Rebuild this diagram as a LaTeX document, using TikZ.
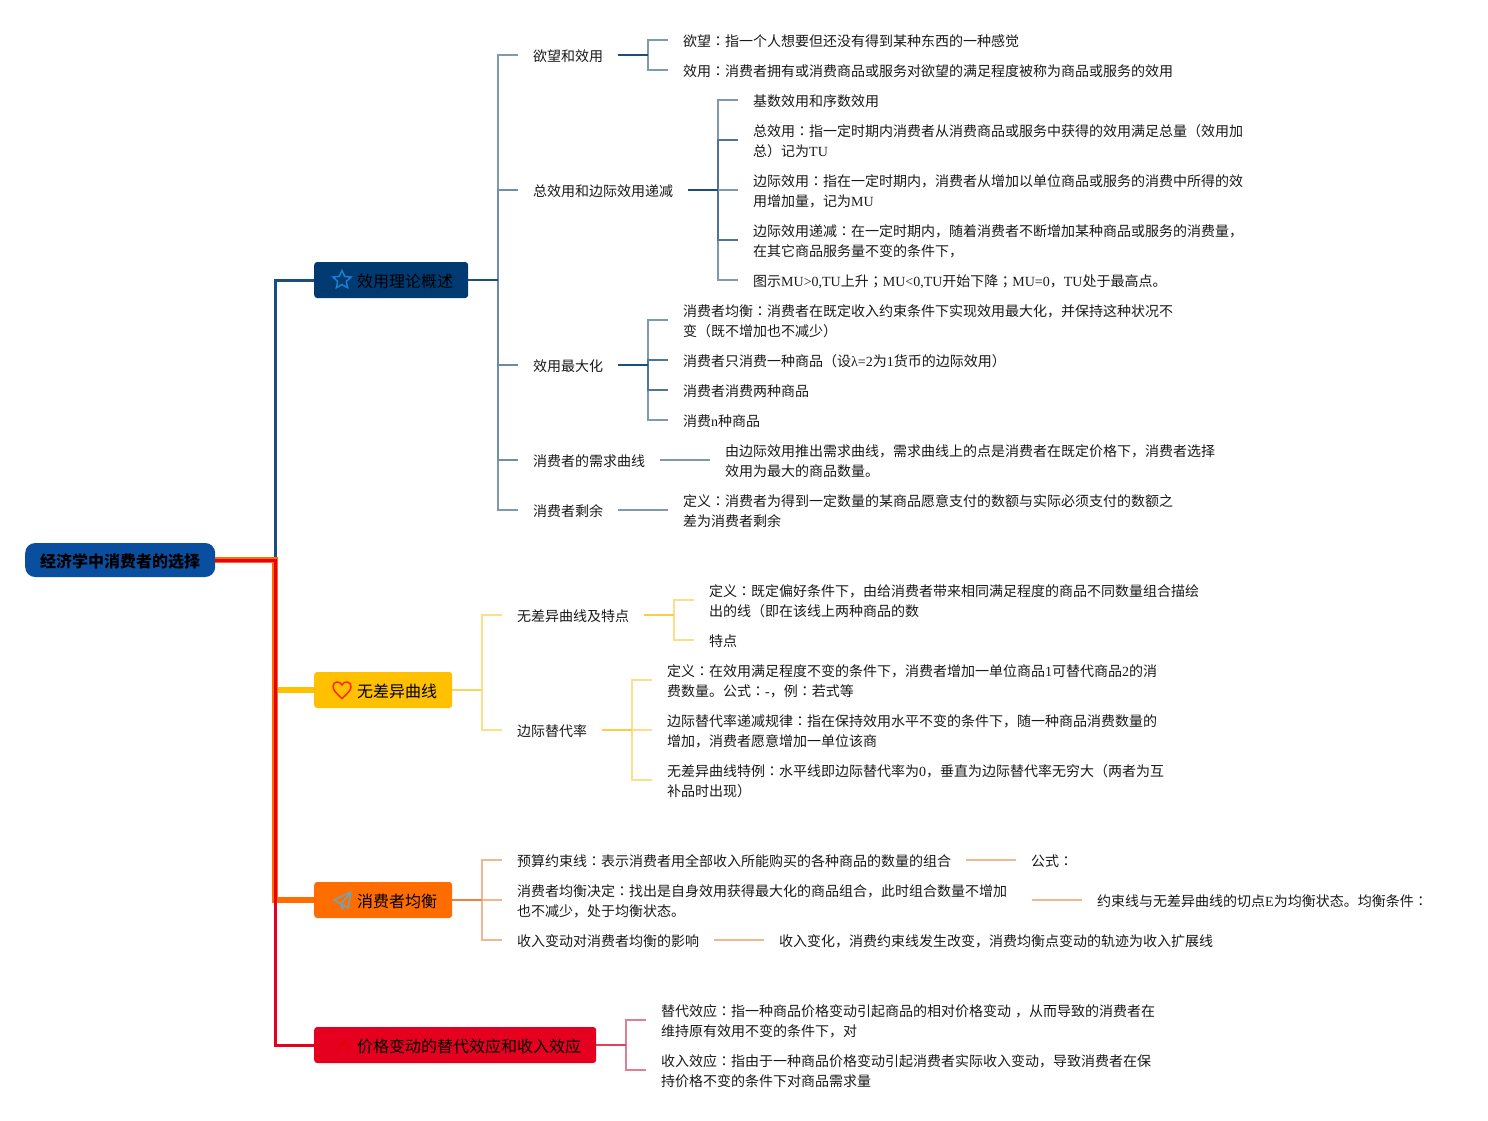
\documentclass[tikz,border=0pt]{standalone}
\usepackage{fontspec}
\usetikzlibrary{shapes.geometric}
\setmainfont{Noto Sans CJK SC}
\newfontfamily\latf{Liberation Serif}
\newfontfamily\tcf{Noto Sans CJK TC}
\newcommand\ltn[1]{{\latf #1}}
\newcommand\cn{{\tcf ：}}
\newcommand\sm{{\tcf ；}}
\definecolor{bS}{HTML}{1C4E7C}\definecolor{bM}{HTML}{4F7496}\definecolor{bL}{HTML}{7F99AF}\definecolor{bT}{HTML}{003A70}\definecolor{bR}{HTML}{0A4F9F}
\definecolor{yS}{HTML}{FDCB45}\definecolor{yM}{HTML}{FDD45F}\definecolor{yL}{HTML}{FDDF8A}\definecolor{yT}{HTML}{FFC000}
\definecolor{oS}{HTML}{E8823E}\definecolor{oL}{HTML}{F2B78E}\definecolor{oT}{HTML}{FF6C00}
\definecolor{rS}{HTML}{E0405C}\definecolor{rL}{HTML}{DC8092}\definecolor{rT}{HTML}{E60020}
\definecolor{starC}{HTML}{1A7FD0}
\tikzset{
  x=1pt,y=-1pt,
  rootbox/.style={fill=#1,rounded corners=10pt,minimum height=34pt,minimum width=190pt,inner sep=0pt,anchor=west,font=\fontsize{16}{20}\selectfont\bfseries,execute at begin node={\rule{0pt}{16.2pt}}},
  mainbox/.style={fill=#1,rounded corners=3pt,minimum height=36pt,inner xsep=15pt,inner ysep=0pt,anchor=west,font=\fontsize{16}{20}\selectfont,execute at begin node={\rule{0pt}{16.2pt}}},
  leaf/.style={anchor=west,inner xsep=15pt,inner ysep=0pt,align=left,text=black!90,font=\fontsize{14}{20}\selectfont,execute at begin node={\rule{0pt}{14.4pt}}},
  twol/.style={leaf,text width=530pt},
  link/.style={line width=2pt,draw=#1},
  trunk/.style={line width=#1},
  icon/.style={line width=1.5pt,line join=round}
}
\begin{document}
\begin{tikzpicture}
\useasboundingbox (0,0) rectangle (1488,1120);
% root and main topics
\node[rootbox=bR] (root) at (25,560) {经济学中消费者的选择};
\node[mainbox=bT] (m1) at (314,280) {\hspace{28pt}效用理论概述};
\node[mainbox=yT] (m2) at (314,690) {\hspace{28pt}无差异曲线};
\node[mainbox=oT] (m3) at (314,900) {\hspace{28pt}消费者均衡};
\node[mainbox=rT] (m4) at (314,1045) {\hspace{28pt}价格变动的替代效应和收入效应};
\coordinate (trk) at (275,560);
% trunk
\draw[trunk=3pt,draw=bS] (root.east) -- (trk) |- (m1.west);
\draw[trunk=6pt,draw=yT] (root.east) -- (trk) |- (m2.west);
\draw[trunk=6pt,draw=oT] (root.east) -- (trk) |- (m3.west);
\draw[trunk=3pt,draw=rT] (root.east) -- (trk) |- (m4.west);
% icons
\node[star,star points=5,star point ratio=2.1,draw=starC,line width=1.5pt,minimum size=19pt,inner sep=0pt] (staricon) at (342,280) {};
\draw[icon,draw=red!70!orange] (342,698.5) .. controls (336,693) and (333,690) .. (333,686.5) .. controls (333,681) and (340,680.5) .. (342,685) .. controls (344,680.5) and (351,681) .. (351,686.5) .. controls (351,690) and (348,693) .. (342,698.5) -- cycle;
\draw[icon,draw=cyan!45!gray] (351,892) -- (334,900) -- (341,904) -- (348,908) -- cycle (351,892) -- (341,904) -- (342,909) -- (345,905);
\draw[line width=1.2pt,draw=red!90!black] (336,1053) -- (345,1040) -- (350,1053) (345,1046) -- (341,1042);
% branch 1
\node[leaf] (a1) at (518,55) {欲望和效用};
\node[leaf] (a2) at (518,190) {总效用和边际效用递减};
\node[leaf] (a3) at (518,365) {效用最大化};
\node[leaf] (a4) at (518,460) {消费者的需求曲线};
\node[leaf] (a5) at (518,510) {消费者剩余};
\node[leaf] (a11) at (668,40) {欲望\cn 指一个人想要但还没有得到某种东西的一种感觉};
\node[leaf] (a12) at (668,70) {效用\cn 消费者拥有或消费商品或服务对欲望的满足程度被称为商品或服务的效用};
\node[leaf] (a21) at (738,100) {基数效用和序数效用};
\node[twol] (a22) at (738,140) {总效用\cn 指一定时期内消费者从消费商品或服务中获得的效用满足总量（效用加\\总）记为\ltn{TU}};
\node[twol] (a23) at (738,190) {边际效用\cn 指在一定时期内，消费者从增加以单位商品或服务的消费中所得的效\\用增加量，记为\ltn{MU}};
\node[twol] (a24) at (738,240) {边际效用递减\cn 在一定时期内，随着消费者不断增加某种商品或服务的消费量，\\在其它商品服务量不变的条件下，};
\node[leaf] (a25) at (738,280) {图示\ltn{MU>0,TU}上升\sm\ltn{MU<0,TU}开始下降\sm\ltn{MU=0}，\ltn{TU}处于最高点。};
\node[twol] (a31) at (668,320) {消费者均衡\cn 消费者在既定收入约束条件下实现效用最大化，并保持这种状况不\\变（既不增加也不减少）};
\node[leaf] (a32) at (668,360) {消费者只消费一种商品（设\ltn{λ=2}为\ltn{1}货币的边际效用）};
\node[leaf] (a33) at (668,390) {消费者消费两种商品};
\node[leaf] (a34) at (668,420) {消费\ltn{n}种商品};
\node[twol] (a41) at (710,460) {由边际效用推出需求曲线，需求曲线上的点是消费者在既定价格下，消费者选择\\效用为最大的商品数量。};
\node[twol] (a51) at (668,510) {定义\cn 消费者为得到一定数量的某商品愿意支付的数额与实际必须支付的数额之\\差为消费者剩余};
% branch 2
\node[leaf] (b1) at (502,615) {无差异曲线及特点};
\node[leaf] (b2) at (502,730) {边际替代率};
\node[twol] (b11) at (694,600) {定义\cn 既定偏好条件下，由给消费者带来相同满足程度的商品不同数量组合描绘\\出的线（即在该线上两种商品的数};
\node[leaf] (b12) at (694,640) {特点};
\node[twol] (b21) at (652,680) {定义\cn 在效用满足程度不变的条件下，消费者增加一单位商品\ltn{1}可替代商品\ltn{2}的消\\费数量。公式\cn\ltn{-}，例\cn 若式等};
\node[twol] (b22) at (652,730) {边际替代率递减规律\cn 指在保持效用水平不变的条件下，随一种商品消费数量的\\增加，消费者愿意增加一单位该商};
\node[twol] (b23) at (652,780) {无差异曲线特例\cn 水平线即边际替代率为\ltn{0}，垂直为边际替代率无穷大（两者为互\\补品时出现）};
% branch 3
\node[leaf] (c1) at (502,860) {预算约束线\cn 表示消费者用全部收入所能购买的各种商品的数量的组合};
\node[twol,text width=500pt] (c2) at (502,900) {消费者均衡决定\cn 找出是自身效用获得最大化的商品组合，此时组合数量不增加\\也不减少，处于均衡状态。};
\node[leaf] (c3) at (502,940) {收入变动对消费者均衡的影响};
\node[leaf] (c11) at (1016,860) {公式\cn};
\node[leaf] (c21) at (1082,900) {约束线与无差异曲线的切点\ltn{E}为均衡状态。均衡条件\cn};
\node[leaf] (c31) at (764,940) {收入变化，消费约束线发生改变，消费均衡点变动的轨迹为收入扩展线};
% branch 4
\node[twol] (d1) at (646,1020) {替代效应\cn 指一种商品价格变动引起商品的相对价格变动\hspace{4pt}，从而导致的消费者在\\维持原有效用不变的条件下，对};
\node[twol] (d2) at (646,1070) {收入效应\cn 指由于一种商品价格变动引起消费者实际收入变动，导致消费者在保\\持价格不变的条件下对商品需求量};
% links branch 1 (far first)
\draw[link=bL] (m1.east) -- ++(30,0) |- (a1.west);
\draw[link=bL] (m1.east) -- ++(30,0) |- (a5.west);
\draw[link=bL!70!bM] (m1.east) -- ++(30,0) |- (a2.west);
\draw[link=bL!70!bM] (m1.east) -- ++(30,0) |- (a4.west);
\draw[link=bL!60!bM] (m1.east) -- ++(30,0) |- (a3.west);
\draw[link=bS] (m1.east) -- ++(30,0);
\draw[link=bL] (a1.east) -- ++(30,0) |- (a11.west);
\draw[link=bL] (a1.east) -- ++(30,0) |- (a12.west);
\draw[link=bS] (a1.east) -- ++(30,0);
\draw[link=bL] (a2.east) -- ++(30,0) |- (a21.west);
\draw[link=bL] (a2.east) -- ++(30,0) |- (a25.west);
\draw[link=bM] (a2.east) -- ++(30,0) |- (a22.west);
\draw[link=bM] (a2.east) -- ++(30,0) |- (a24.west);
\draw[link=bL] (a2.east) -- ++(30,0) -- (a23.west);
\draw[link=bS] (a2.east) -- ++(30,0);
\draw[link=bL] (a3.east) -- ++(30,0) |- (a31.west);
\draw[link=bL] (a3.east) -- ++(30,0) |- (a34.west);
\draw[link=bM] (a3.east) -- ++(30,0) |- (a33.west);
\draw[link=bM] (a3.east) -- ++(30,0) |- (a32.west);
\draw[link=bS] (a3.east) -- ++(30,0);
\draw[link=bL] (a4.east) -- (a41.west);
\draw[link=bL] (a5.east) -- (a51.west);
% links branch 2
\draw[link=yL] (m2.east) -- ++(30,0) |- (b1.west);
\draw[link=yL] (m2.east) -- ++(30,0) |- (b2.west);
\draw[link=yM] (m2.east) -- ++(30,0);
\draw[link=yL] (b1.east) -- ++(30,0) |- (b11.west);
\draw[link=yL] (b1.east) -- ++(30,0) |- (b12.west);
\draw[link=yS] (b1.east) -- ++(30,0);
\draw[link=yL] (b2.east) -- ++(30,0) |- (b21.west);
\draw[link=yL] (b2.east) -- ++(30,0) |- (b23.west);
\draw[link=yL] (b2.east) -- ++(30,0) -- (b22.west);
\draw[link=yS] (b2.east) -- ++(30,0);
% links branch 3
\draw[link=oL] (m3.east) -- ++(30,0) |- (c1.west);
\draw[link=oL] (m3.east) -- ++(30,0) |- (c3.west);
\draw[link=oL] (m3.east) -- ++(30,0) -- (c2.west);
\draw[link=oS] (m3.east) -- ++(30,0);
\draw[link=oL] (c1.east) -- (c11.west);
\draw[link=oL] (c2.east) -- (c21.west);
\draw[link=oL] (c3.east) -- (c31.west);
% links branch 4
\draw[link=rL] (m4.east) -- ++(30,0) |- (d1.west);
\draw[link=rL] (m4.east) -- ++(30,0) |- (d2.west);
\draw[link=rS] (m4.east) -- ++(30,0);
\end{tikzpicture}
\end{document}
